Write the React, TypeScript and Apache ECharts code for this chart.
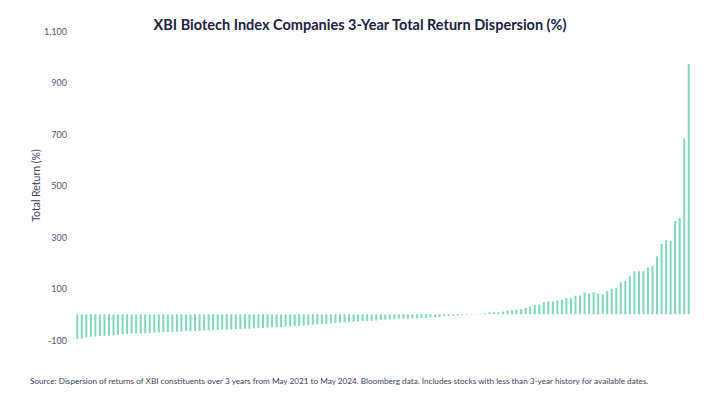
import React, { useEffect, useRef } from "react";
import * as echarts from "echarts";

const titleText = "XBI Biotech Index Companies 3-Year Total Return Dispersion (%)";
const sourceText =
  "Source: Dispersion of returns of XBI constituents over 3 years from May 2021 to May 2024. Bloomberg data. Includes stocks with less than 3-year history for available dates.";
const yAxisName = "Total Return (%)";

const returnsLow: number[] = [
  -97, -94, -90, -87, -86, -85, -84, -83, -82, -79, -78, -77, -75, -74, -74, -73, -73, -72, -71, -70, -69, -68, -68, -67,
];
const returnsMidLow: number[] = [
  -66, -67, -65, -64, -63, -62, -62, -61, -60, -60, -59, -58, -57, -57, -56, -55, -54, -53, -52, -51, -51, -50, -48, -47, -46, -45,
];
const returnsMid: number[] = [
  -45, -43, -41, -40, -38, -37, -35, -34, -33, -31, -30, -29, -28, -27, -26, -25, -24, -22, -21, -20, -19, -18, -17, -17, -16,
];
const returnsNearZero: number[] = [-16, -15, -14, -12, -11, -10, -8, -7, -6, -5, -3, -2, 1, 1, 2];
const returnsHigh: number[] = [
  4, 7, 7, 8, 10, 14, 16, 18, 20, 25, 31, 36, 38, 46, 50, 50, 54, 57, 63, 62, 72, 73, 84, 80, 85, 80,
];
const returnsTop: number[] = [
  77, 90, 99, 102, 124, 130, 147, 167, 167, 168, 182, 187, 225, 273, 287, 284, 362, 373, 683, 972,
];

const allReturns: number[] = [
  ...returnsLow,
  ...returnsMidLow,
  ...returnsMid,
  ...returnsNearZero,
  ...returnsHigh,
  ...returnsTop,
];
const companies: string[] = allReturns.map((_, i) => String(i + 1));

const tickLabels: number[] = [-100, 100, 300, 500, 700, 900, 1100];

export default function App() {
  const ref = useRef<HTMLDivElement>(null);
  useEffect(() => {
    if (!ref.current) return;
    const chart = echarts.init(ref.current, undefined, { renderer: "svg" });
    chart.setOption({
      animation: false,
      backgroundColor: "#ffffff",
      title: {
        text: titleText,
        left: "center",
        top: 12,
        textStyle: {
          fontFamily: "Lato",
          fontWeight: 700,
          fontSize: 14.5,
          color: "#1c2142",
        },
      },
      graphic: [
        {
          type: "text",
          left: 30,
          top: 377,
          style: {
            text: sourceText,
            fontFamily: "Lato",
            fontSize: 8.2,
            fill: "#3b3f5c",
          },
        },
      ],
      grid: { left: 75, right: 29, top: 31, bottom: 65, containLabel: false },
      xAxis: {
        type: "category",
        data: companies,
        axisLine: { show: false },
        axisTick: { show: false },
        axisLabel: { show: false },
        splitLine: { show: false },
      },
      yAxis: {
        type: "value",
        min: -100,
        max: 1100,
        interval: 100,
        name: yAxisName,
        nameLocation: "middle",
        nameGap: 34,
        nameMoveOverlap: false,
        nameTextStyle: { fontFamily: "Lato", fontSize: 10.5, color: "#3b3f5c" },
        axisLine: { show: false },
        axisTick: { show: false },
        splitLine: { show: false },
        axisLabel: {
          margin: 8,
          fontFamily: "Lato",
          fontSize: 9,
          color: "#50546e",
          formatter: (v: number) =>
            tickLabels.includes(v) ? v.toLocaleString("en-US") : "",
        },
      },
      series: [
        {
          type: "bar",
          data: allReturns,
          barWidth: 2,
          itemStyle: { color: "#7fd8bd" },
        },
      ],
    });
    return () => chart.dispose();
  }, []);
  return (
    <div
      ref={ref}
      style={{ position: "fixed", left: 0, top: 0, width: 720, height: 405 }}
    />
  );
}
